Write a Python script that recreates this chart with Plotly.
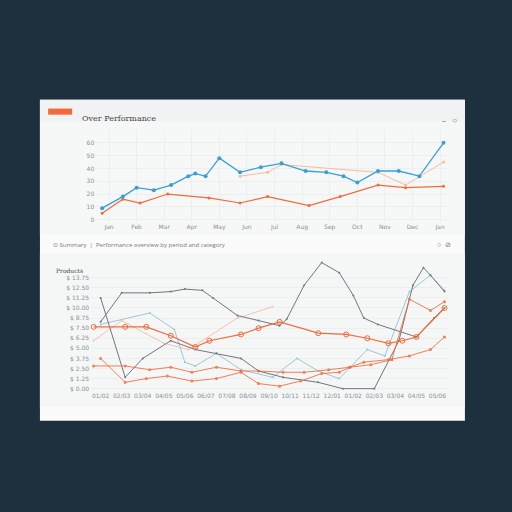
import plotly.graph_objects as go

# ---- top panel data ----
top_blue_x = [1,7,11,16,21,26,28,31,35,41,47,53,60,66,71,75,81,87,93,100]
top_blue_y = [9,18,25,23,27,34,36,34,48,37,41,44,38,37,34,29,38,38,34,60]
top_org_x = [1,7,12,20,32,41,49,61,70,81,89,100]
top_org_y = [5,16,13,20,17,13,18,11,18,27,25,26]
top_peach_x = [41,49,53,81,89,100]
top_peach_y = [34,37,43,37,27,45]
top_xticks = [3,11,19,27,35,43,51,59,67,75,83,91,99]
top_xlabels = ["Jan","Feb","Mar","Apr","May","Jun","Jul","Aug","Sep","Oct","Nov","Dec","Jan"]
top_yticks = [0,10,20,30,40,50,60]

# ---- bottom panel data ----
gA_x = [2,9,14,22,29,35,42,47,54,64,71,80,87,91,94,96,100]
gA_y = [72,9,24,38,31,28,24,14,9,5,0,0,38,82,96,90,77]
gB_x = [2,8,16,22,26,31,34,41,47,53,55,60,65,70,74,77,81,92,97,100]
gB_y = [53,76,76,77,79,78,72,58,54,50,55,82,100,92,74,56,51,41,56,64]
lb_x = [2,16,23,26,29,35,42,51,58,64,70,78,83,90,96,100]
lb_y = [51,60,47,21,18,28,15,9,24,14,8,31,26,77,90,78]
o1_x = [0,9,15,22,29,33,42,47,53,64,72,78,84,88,92,100]
o1_y = [49,49,49,42,33,38,43,48,53,44,43,40,36,38,41,64]
o2_x = [0,9,16,22,28,35,42,47,54,60,67,73,77,84,90,96,100]
o2_y = [18,18,15,17,13,17,14,14,13,13,15,17,21,23,26,31,41]
o3_x = [2,9,15,21,28,35,42,47,53,59,65,70,73,79,85,90,96,100]
o3_y = [24,5,8,10,6,8,13,4,2,6,12,13,17,19,23,71,62,69]
pe_x = [0,8,20,27,41,51]
pe_y = [38,54,36,31,56,65]
bot_xticks = [2,8,14,20,26,32,38,44,50,56,62,68,74,80,86,92,98]
bot_xlabels = ["01/02","02/03","03/04","04/05","05/06","06/07","07/08","08/09","09/10",
               "10/11","11/12","12/01","01/02","02/03","03/04","04/05","05/06"]
bot_yticks = [0,8,16,24,32,40,48,56,64,72,80,88]
bot_ylabels = ["$ 0.00","$ 1.25","$ 2.50","$ 3.75","$ 5.00","$ 6.25","$ 7.50",
               "$ 8.75","$ 10.00","$ 11.25","$ 12.50","$ 13.75"]

BLUE = "#3a9fd6"; ORG = "#f26b3a"; PEACH = "#f7b08a"; GRAY = "#6e7780"; LB = "#9cc7d6"

fig = go.Figure()
def add(x, y, color, ax, width=1.3, marker="circle", msize=4, op=1.0):
    fig.add_trace(go.Scatter(x=x, y=y, mode="lines+markers", xaxis="x"+ax, yaxis="y"+ax,
        line=dict(color=color, width=width), opacity=op,
        marker=dict(color=color, size=msize, symbol=marker), showlegend=False))

add(top_peach_x, top_peach_y, PEACH, "", 1, msize=3, op=0.8)
add(top_org_x, top_org_y, ORG, "", 1.2, msize=3)
add(top_blue_x, top_blue_y, BLUE, "", 1.3, msize=4)

add(pe_x, pe_y, PEACH, "2", 1, msize=2, op=0.7)
add(lb_x, lb_y, LB, "2", 1, msize=2)
add(gA_x, gA_y, GRAY, "2", 1, msize=2)
add(gB_x, gB_y, GRAY, "2", 1, msize=2)
add(o2_x, o2_y, ORG, "2", 1, marker="circle", msize=3, op=0.85)
add(o3_x, o3_y, ORG, "2", 1, marker="circle", msize=3, op=0.85)
add(o1_x, o1_y, ORG, "2", 1.2, marker="circle-open", msize=5)

tf = dict(family="DejaVu Sans", size=6, color="#8a9096")
fig.update_layout(
    width=512, height=512, margin=dict(l=0, r=0, t=0, b=0),
    paper_bgcolor="#1e2f3e", plot_bgcolor="rgba(0,0,0,0)",
    xaxis=dict(domain=[0.186, 0.873], range=[-1, 101], tickvals=top_xticks, ticktext=top_xlabels,
               tickfont=tf, showgrid=True, gridcolor="#eceeef", zeroline=False, anchor="y"),
    yaxis=dict(domain=[0.566, 0.746], range=[-2, 70], tickvals=top_yticks, tickfont=tf,
               gridcolor="#eceeef", zeroline=False, anchor="x"),
    xaxis2=dict(domain=[0.176, 0.875], range=[-1, 101], tickvals=bot_xticks, ticktext=bot_xlabels,
                tickfont=tf, showgrid=False, zeroline=False, anchor="y2"),
    yaxis2=dict(domain=[0.236, 0.492], range=[-2, 102], tickvals=bot_yticks, ticktext=bot_ylabels,
                tickfont=tf, gridcolor="#eceeef", zeroline=False, anchor="x2"),
    shapes=[
        dict(type="rect", xref="paper", yref="paper", x0=0.078, x1=0.908, y0=0.178, y1=0.805,
             fillcolor="#fbfbfb", line=dict(width=0), layer="below"),
        dict(type="rect", xref="paper", yref="paper", x0=0.078, x1=0.908, y0=0.762, y1=0.805,
             fillcolor="#f1f2f3", line=dict(width=0), layer="below"),
        dict(type="rect", xref="paper", yref="paper", x0=0.078, x1=0.908, y0=0.541, y1=0.762,
             fillcolor="#f6f7f7", line=dict(width=0), layer="below"),
        dict(type="rect", xref="paper", yref="paper", x0=0.078, x1=0.908, y0=0.205, y1=0.505,
             fillcolor="#f5f6f6", line=dict(width=0), layer="below"),
        dict(type="rect", xref="paper", yref="paper", x0=0.094, x1=0.141, y0=0.776, y1=0.788,
             fillcolor="#f26b3a", line=dict(width=0)),
    ],
    annotations=[
        dict(x=0.156, y=0.782, xref="paper", yref="paper", text="Over Performance", showarrow=False,
             xanchor="left", font=dict(family="DejaVu Serif", size=8, color="#444")),
        dict(x=0.86, y=0.782, xref="paper", yref="paper", text="–   ○", showarrow=False,
             xanchor="left", font=dict(size=8, color="#666")),
        dict(x=0.10, y=0.522, xref="paper", yref="paper",
             text="⊙ Summary  |  Performance overview by period and category", showarrow=False,
             xanchor="left", font=dict(size=6, color="#777")),
        dict(x=0.85, y=0.522, xref="paper", yref="paper", text="○  ⊘", showarrow=False,
             xanchor="left", font=dict(size=7, color="#777")),
        dict(x=0.105, y=0.472, xref="paper", yref="paper", text="Products", showarrow=False,
             xanchor="left", font=dict(family="DejaVu Serif", size=6, color="#444")),
    ],
)
fig.write_html("out.html", config={"displayModeBar": False},
               post_script="document.body.style.margin='0';document.body.style.background='#1e2f3e';")
